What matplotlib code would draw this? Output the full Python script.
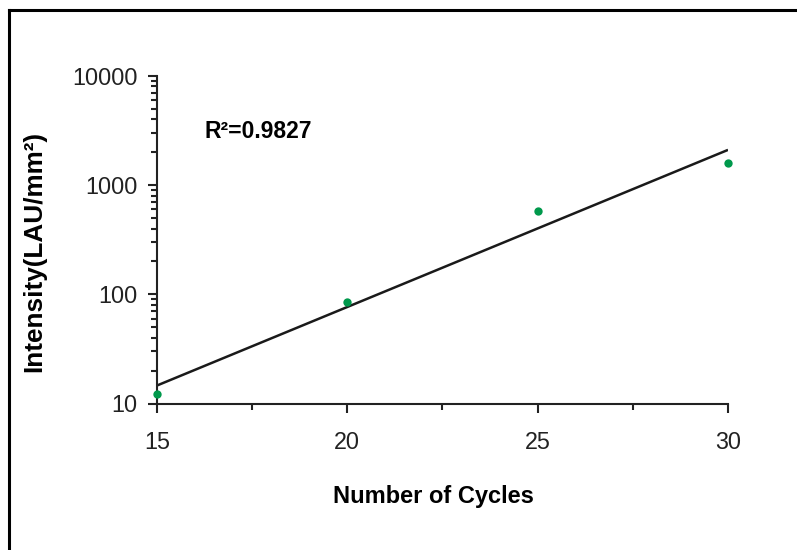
import numpy as np
import matplotlib
matplotlib.use("Agg")
import matplotlib.pyplot as plt
from matplotlib.lines import Line2D
from matplotlib.ticker import FixedLocator, LogLocator, NullFormatter

cycles = [15, 20, 25, 30]
intensity = [12.1, 84.5, 580, 1590]
r2_label = "R²=0.9827"
x_ticks = [15, 20, 25, 30]
x_minor = [17.5, 22.5, 27.5]
y_ticks = [10, 100, 1000, 10000]
y_ticklabels = ["10", "100", "1000", "10000"]

plt.rcParams['font.family'] = ['Liberation Sans', 'DejaVu Sans']

fig = plt.figure(figsize=(7.97, 5.5), dpi=100)
ax = fig.add_axes([157/797, 1-403.5/550, (728-157)/797, (403.5-75.9)/550])

# fit line
coef = np.polyfit(cycles, np.log10(intensity), 1)
xf = np.array([15, 30])
ax.plot(xf, 10**np.polyval(coef, xf), color='#1a1a1a', lw=1.8, solid_capstyle='butt', zorder=2)
ax.plot(cycles, intensity, 'o', color='#00994c', ms=6, mec='none', zorder=3, clip_on=False)

ax.set_yscale('log')
ax.set_xlim(15, 30)
ax.set_ylim(10, 10000)
ax.set_xticks(x_ticks)
ax.xaxis.set_minor_locator(FixedLocator(x_minor))
ax.set_yticks(y_ticks)
ax.set_yticklabels(y_ticklabels)
ax.yaxis.set_minor_locator(LogLocator(base=10, subs=np.arange(2, 10)))
ax.yaxis.set_minor_formatter(NullFormatter())

for s in ['top', 'right']:
    ax.spines[s].set_visible(False)
for s in ['left', 'bottom']:
    ax.spines[s].set_linewidth(1.5)
    ax.spines[s].set_color('#222222')

ax.tick_params(axis='both', which='major', direction='out', length=6.5, width=1.5, color='#222222',
               labelsize=16.8, labelcolor='#222222')
ax.tick_params(axis='both', which='minor', direction='out', length=4.5, width=1.5, color='#222222')
ax.tick_params(axis='x', which='major', pad=13)
ax.tick_params(axis='y', which='major', pad=7.5)

fig.text(34/797, 1-251.5/550, "Intensity(LAU/mm²)", rotation=90, ha='center', va='center',
         fontsize=18.8, fontweight='bold')
fig.text(433.5/797, 1-497/550, "Number of Cycles", ha='center', va='center', fontsize=17, fontweight='bold')
fig.text(205/797, 1-131/550, r2_label, ha='left', va='center', fontsize=16.5, fontweight='bold')

# frame lines (left and top)
fig.add_artist(Line2D([9/797, 9/797], [0, 1-10/550], transform=fig.transFigure, color='black', lw=2.2))
fig.add_artist(Line2D([9/797, 1], [1-10/550, 1-10/550], transform=fig.transFigure, color='black', lw=2.2))

fig.savefig("out.png", dpi=100)
